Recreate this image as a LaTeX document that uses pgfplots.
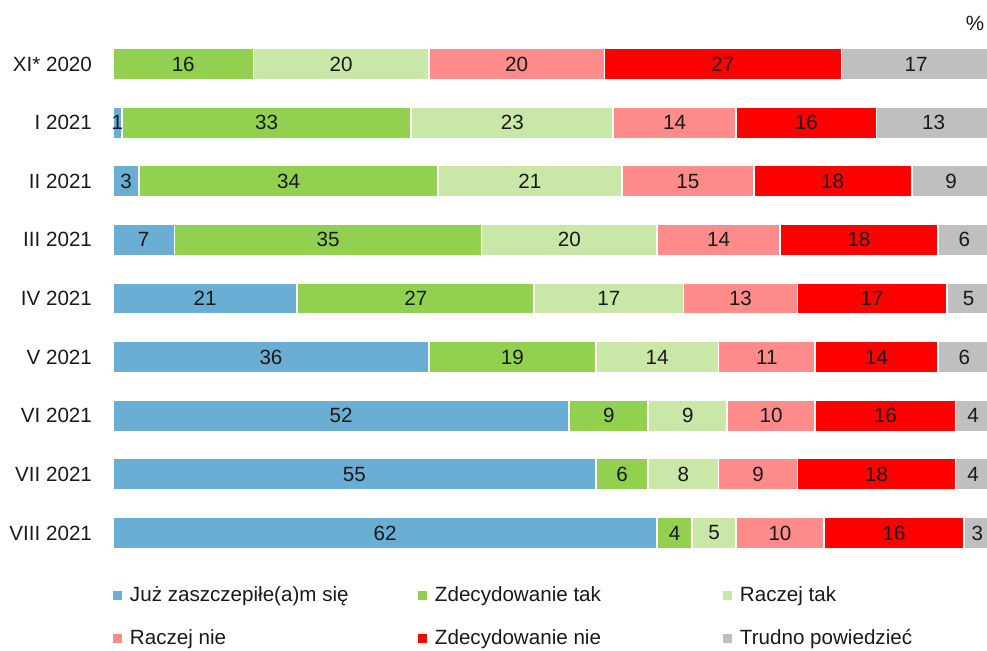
\documentclass[border=0pt]{standalone}
\usepackage{fontspec}
\setmainfont{Liberation Sans}
\usepackage{pgfplots}
\pgfplotsset{compat=1.18}
\usepackage{pgfplotstable}

\definecolor{cBlue}{HTML}{6BAED3}
\definecolor{cGreen}{HTML}{92D050}
\definecolor{cLGreen}{HTML}{C9E7A7}
\definecolor{cPink}{HTML}{FF8B8B}
\definecolor{cRed}{HTML}{FF0000}
\definecolor{cGrey}{HTML}{BFBFBF}

\pgfplotstableread{
idx a b c d e f
0 0 16 20 20 27 17
1 1 33 23 14 16 13
2 3 34 21 15 18 9
3 7 35 20 14 18 6
4 21 27 17 13 17 5
5 36 19 14 11 14 6
6 52 9 9 10 16 4
7 55 6 8 9 18 4
8 62 4 5 10 16 3
}\data
% centres of the segments, computed from the values above
\pgfplotstablecreatecol[create col/expr={\thisrow{a}/2}]{ma}\data
\pgfplotstablecreatecol[create col/expr={\thisrow{a}+\thisrow{b}/2}]{mb}\data
\pgfplotstablecreatecol[create col/expr={\thisrow{a}+\thisrow{b}+\thisrow{c}/2}]{mc}\data
\pgfplotstablecreatecol[create col/expr={\thisrow{a}+\thisrow{b}+\thisrow{c}+\thisrow{d}/2}]{md}\data
\pgfplotstablecreatecol[create col/expr={\thisrow{a}+\thisrow{b}+\thisrow{c}+\thisrow{d}+\thisrow{e}/2}]{me}\data
\pgfplotstablecreatecol[create col/expr={\thisrow{a}+\thisrow{b}+\thisrow{c}+\thisrow{d}+\thisrow{e}+\thisrow{f}/2}]{mf}\data

\newcommand{\legtxt}[1]{\makebox[144pt][l]{\rule[-2.5pt]{0pt}{10pt}#1}}

\pgfplotsset{
  base/.style={
    at={(0pt,0pt)}, anchor=south west,
    scale only axis, width=438.8pt, height=263.8pt,
    xmin=0, xmax=100, ymin=-0.5, ymax=8.5, y dir=reverse,
    enlargelimits=false,
    axis line style={draw=none},
    xtick=\empty,
    major tick length=0pt,
    clip=false,
  },
  lab/.style={draw=none, mark=none, only marks, point meta=explicit symbolic,
    nodes near coords, nodes near coords align={center},
    every node near coord/.append style={anchor=center, text=black!90, inner sep=0pt}},
}

\begin{document}
\begin{tikzpicture}[font=\fontsize{10.3pt}{12pt}\selectfont]
\begin{axis}[
  base,
  xbar stacked, bar width=15.8pt,
  ytick={0,...,8},
  yticklabels={XI* 2020, I 2021, II 2021, III 2021, IV 2021, V 2021, VI 2021, VII 2021, VIII 2021},
  yticklabel style={xshift=-7pt, text=black!90},
  every axis plot/.append style={draw=white, line width=0.9pt},
  legend columns=3,
  legend cell align=left,
  legend image code/.code={\path[#1,draw=none] (0pt,-2.25pt) rectangle (4.5pt,2.25pt);},
  legend style={at={(0,0)}, anchor=north west, yshift=-11.85pt, draw=none, fill=none,
    inner sep=0pt, outer sep=0pt, row sep=12.5pt, nodes={inner sep=0pt, text=black!90},
    /tikz/every odd column/.append style={column sep=4pt},
    /tikz/every even column/.append style={column sep=0pt}},
]
\addplot[fill=cBlue] table[x=a, y=idx] {\data};
\addplot[fill=cGreen] table[x=b, y=idx] {\data};
\addplot[fill=cLGreen] table[x=c, y=idx] {\data};
\addplot[fill=cPink] table[x=d, y=idx] {\data};
\addplot[fill=cRed] table[x=e, y=idx] {\data};
\addplot[fill=cGrey] table[x=f, y=idx] {\data};
\addlegendentry{\legtxt{Już zaszczepiłe(a)m się}}
\addlegendentry{\legtxt{Zdecydowanie tak}}
\addlegendentry{\legtxt{Raczej tak}}
\addlegendentry{\legtxt{Raczej nie}}
\addlegendentry{\legtxt{Zdecydowanie nie}}
\addlegendentry{\legtxt{Trudno powiedzieć}}
\end{axis}
\begin{axis}[
  base,
  ytick=\empty,
  restrict x to domain=0.1:100,
]
\addplot[lab] table[x=ma, y=idx, meta=a] {\data};
\addplot[lab] table[x=mb, y=idx, meta=b] {\data};
\addplot[lab] table[x=mc, y=idx, meta=c] {\data};
\addplot[lab] table[x=md, y=idx, meta=d] {\data};
\addplot[lab] table[x=me, y=idx, meta=e] {\data};
\addplot[lab] table[x=mf, y=idx, meta=f] {\data};
\end{axis}
\node[text=black!90] at (431pt,269.5pt) {\%};
\pgfresetboundingbox
\path[use as bounding box] (-56.5pt,-43.85pt) rectangle (437pt,281.15pt);
\end{tikzpicture}
\end{document}
